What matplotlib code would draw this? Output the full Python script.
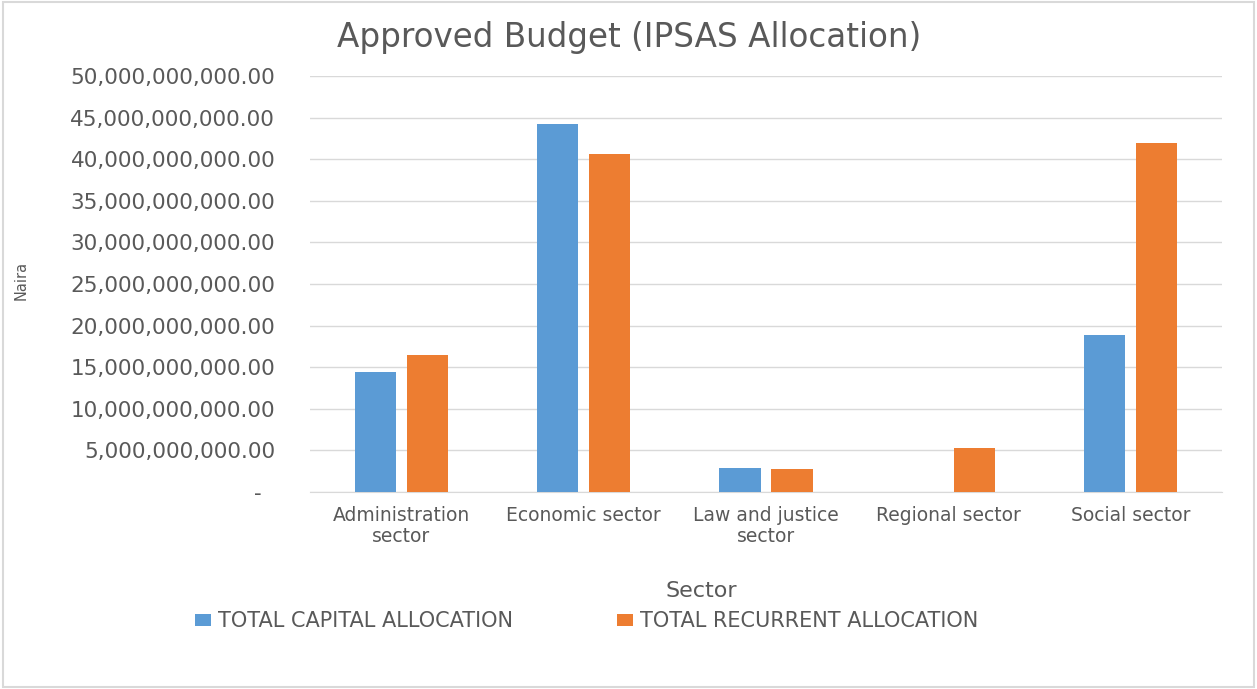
import numpy as np
import matplotlib
matplotlib.use("Agg")
import matplotlib.pyplot as plt
from matplotlib.ticker import FuncFormatter
from matplotlib.patches import Rectangle

# données
secteurs = ["Administration\nsector", "Economic sector", "Law and justice\nsector",
            "Regional sector", "Social sector"]
capital = [14.4e9, 44.2e9, 2.85e9, 0.0, 18.9e9]
recurrent = [16.45e9, 40.6e9, 2.75e9, 5.25e9, 41.95e9]
noms_series = ["TOTAL CAPITAL ALLOCATION", "TOTAL RECURRENT ALLOCATION"]

bleu = "#5b9bd5"
orange = "#ed7d31"
gris_txt = "#595959"

# le texte de la référence est très large : DejaVu Sans s'en approche le mieux
plt.rcParams['font.family'] = ['DejaVu Sans']

fig = plt.figure(figsize=(12.57, 6.89), dpi=100)
ax = fig.add_axes([310/1257, 1 - 492/689, (1222-310)/1257, (492-76)/689])

x = np.arange(len(secteurs))
larg = 0.225
ecart = 0.06
ax.bar(x - (larg + ecart)/2, capital, larg, color=bleu, label=noms_series[0], zorder=3)
ax.bar(x + (larg + ecart)/2, recurrent, larg, color=orange, label=noms_series[1], zorder=3)

ax.set_xlim(-0.5, len(secteurs) - 0.5)
ax.set_ylim(0, 50e9)
ax.set_yticks(np.arange(0, 50e9 + 1, 5e9))

def fmt(v, pos):
    # format comptable : zéro affiché comme un tiret
    if v == 0:
        return "-  "
    return f"{v:,.2f}"

ax.yaxis.set_major_formatter(FuncFormatter(fmt))
ax.set_xticks(x)
ax.set_xticklabels(secteurs, linespacing=1.15)
ax.tick_params(axis='both', length=0, labelcolor=gris_txt)
ax.tick_params(axis='y', labelsize=15.5, pad=25)
ax.tick_params(axis='x', labelsize=13.5, pad=10)
ax.grid(axis='y', color="#d9d9d9", linewidth=1, zorder=0)
for s in ["top", "right", "left"]:
    ax.spines[s].set_visible(False)
ax.spines["bottom"].set_color("#d9d9d9")

fig.text(629/1257, 1 - 37/689, "Approved Budget (IPSAS Allocation)", ha="center", va="center",
         fontsize=23.5, color=gris_txt)
fig.text(21/1257, 1 - 280/689, "Naira", rotation=90, ha="center", va="center",
         fontsize=10.5, color=gris_txt)
fig.text(701/1257, 1 - 591/689, "Sector", ha="center", va="center",
         fontsize=16, color=gris_txt)

fig.legend(loc="center", bbox_to_anchor=(587/1257, 1 - 621/689), ncol=2, frameon=False,
           fontsize=15, handlelength=0.75, handleheight=0.5, columnspacing=5.0,
           handletextpad=0.35, labelcolor=gris_txt)

fig.patches.append(Rectangle((0.002, 0.003), 0.996, 0.994, transform=fig.transFigure,
                             fill=False, edgecolor="#d9d9d9", linewidth=1.5))

fig.savefig("out.png", dpi=100)
